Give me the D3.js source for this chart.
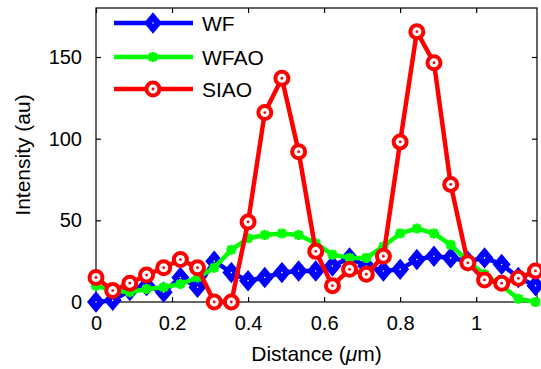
<!DOCTYPE html>
<html><head><meta charset="utf-8">
<script src="https://cdn.jsdelivr.net/npm/d3@7"></script>
<style>body{margin:0;background:#fff}svg{display:block;font-family:"Liberation Sans",Arial,sans-serif}</style>
</head><body><svg id="c" width="541" height="369"></svg>
<script>
const distance = [0, 0.044, 0.089, 0.133, 0.178, 0.222, 0.267, 0.311, 0.356, 0.4, 0.444, 0.489, 0.533, 0.578, 0.622, 0.667, 0.711, 0.756, 0.8, 0.844, 0.889, 0.933, 0.978, 1.022, 1.067, 1.111, 1.156];
const wf   = [0, 1, 7, 10, 6, 15, 9, 25, 18, 13, 15, 18, 19, 19, 22, 27, 22, 19, 20, 26, 28, 27, 25, 27, 23, 15, 10];
const wfao = [10, 7, 6, 8, 9, 11, 15, 21, 32, 39, 41, 42, 41, 36, 29, 27, 27, 34, 42, 45, 42, 35, 25, 17, 10, 2, 0];
const siao = [15, 7, 11.5, 16.5, 21, 26, 21, 0, 0, 49, 116, 137, 92, 31, 10, 20, 17, 28, 98, 165.5, 146.5, 72, 24, 13.5, 11.5, 14.5, 19];
const seriesNames = ["WF", "WFAO", "SIAO"];
const seriesColors = ["#0000ff", "#00ff00", "#ff0000"];
const xTicks = [0, 0.2, 0.4, 0.6, 0.8, 1];
const xTickLabels = ["0", "0.2", "0.4", "0.6", "0.8", "1"];
const yTicks = [0, 50, 100, 150];

const svg = d3.select("#c");
const L = 96, R = 537, T = 8, B = 302;
const x = d3.scaleLinear().domain([0, 1.16]).range([L, R]);
const y = d3.scaleLinear().domain([0, 180]).range([B, T]);

svg.append("rect").attr("x", L).attr("y", T).attr("width", R - L).attr("height", B - T)
  .attr("fill", "none").attr("stroke", "#000").attr("stroke-width", 1.2);

const fs = "20px";
const xb = svg.append("g").attr("transform", `translate(0,${B})`)
  .call(d3.axisBottom(x).tickValues(xTicks).tickFormat((d, i) => xTickLabels[i]).tickSizeInner(-5).tickSizeOuter(0).tickPadding(14));
const xt = svg.append("g").attr("transform", `translate(0,${T})`)
  .call(d3.axisTop(x).tickValues(xTicks).tickFormat("").tickSizeInner(-5).tickSizeOuter(0));
const yl = svg.append("g").attr("transform", `translate(${L},0)`)
  .call(d3.axisLeft(y).tickValues(yTicks).tickSizeInner(-5).tickSizeOuter(0).tickPadding(14));
const yr = svg.append("g").attr("transform", `translate(${R},0)`)
  .call(d3.axisRight(y).tickValues(yTicks).tickFormat("").tickSizeInner(-5).tickSizeOuter(0));
[xb, xt, yl, yr].forEach(g => {
  g.select(".domain").remove();
  g.selectAll("line").attr("stroke", "#000").attr("stroke-width", 1.2);
  g.selectAll("text").attr("font-size", fs).attr("fill", "#000").attr("font-family", "Liberation Sans, Arial, sans-serif");
});

const xl = svg.append("text").attr("x", (L + R) / 2).attr("y", 361).attr("text-anchor", "middle").attr("font-size", "21px");
xl.append("tspan").text("Distance (");
xl.append("tspan").attr("font-style", "italic").text("μ");
xl.append("tspan").text("m)");
svg.append("text").attr("transform", `translate(30,${(T + B) / 2}) rotate(-90)`).attr("text-anchor", "middle")
  .attr("font-size", "21px").text("Intensity (au)");

const line = d3.line().x((d, i) => x(distance[i])).y(d => y(d));
const diamond = (g, cx, cy, c) => {
  g.append("path").attr("d", `M${cx},${cy - 9.5}L${cx + 8},${cy}L${cx},${cy + 9.5}L${cx - 8},${cy}Z`)
    .attr("fill", c).attr("stroke", c).attr("stroke-width", 1.5);
  g.append("circle").attr("cx", cx).attr("cy", cy).attr("r", 0.8).attr("fill", "#fff");
};
const star = (g, cx, cy, c) => {
  const s = 5;
  g.append("path").attr("d", `M${cx - s},${cy}L${cx + s},${cy}M${cx},${cy - s}L${cx},${cy + s}M${cx - s * 0.75},${cy - s * 0.75}L${cx + s * 0.75},${cy + s * 0.75}M${cx - s * 0.75},${cy + s * 0.75}L${cx + s * 0.75},${cy - s * 0.75}`)
    .attr("stroke", c).attr("stroke-width", 3).attr("fill", "none");
};
const circ = (g, cx, cy, c) => {
  g.append("circle").attr("cx", cx).attr("cy", cy).attr("r", 6.5).attr("fill", "#fff").attr("stroke", c).attr("stroke-width", 4);
  g.append("circle").attr("cx", cx).attr("cy", cy).attr("r", 1.4).attr("fill", c);
};
const markers = [diamond, star, circ];
const data = [wf, wfao, siao];

data.forEach((vals, k) => {
  const g = svg.append("g");
  g.append("path").datum(vals).attr("d", line).attr("fill", "none")
    .attr("stroke", seriesColors[k]).attr("stroke-width", 4.5).attr("stroke-linejoin", "round");
  vals.forEach((v, i) => markers[k](g, x(distance[i]), y(v), seriesColors[k]));
});

const legY = [23, 57, 89];
seriesNames.forEach((n, k) => {
  const g = svg.append("g");
  g.append("line").attr("x1", 114).attr("x2", 193).attr("y1", legY[k]).attr("y2", legY[k])
    .attr("stroke", seriesColors[k]).attr("stroke-width", 4.5);
  markers[k](g, 153, legY[k], seriesColors[k]);
  g.append("text").attr("x", 202).attr("y", legY[k] + 7.5).attr("font-size", "21px").text(n);
});
</script></body></html>
